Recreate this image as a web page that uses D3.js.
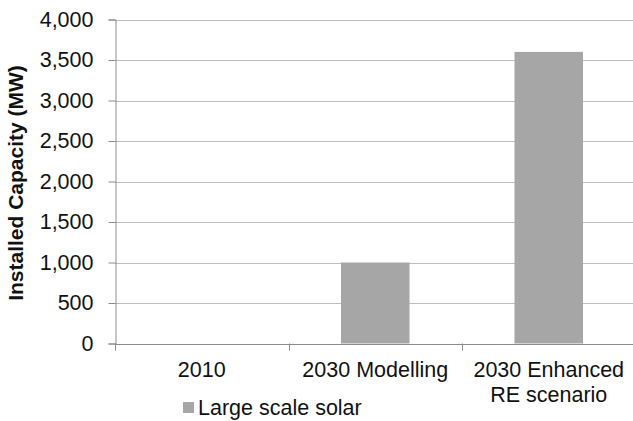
<!DOCTYPE html>
<html><head><meta charset="utf-8">
<script src="https://cdn.jsdelivr.net/npm/d3@7"></script>
<style>body{margin:0;background:#fff;} text{font-family:"Liberation Sans",Arial,sans-serif;fill:#111;}</style>
</head><body>
<svg id="c" width="633" height="421"></svg>
<script>
const categories = [["2010"], ["2030 Modelling"], ["2030 Enhanced", "RE scenario"]];
const seriesName = "Large scale solar";
const values = [0, 1000, 3600];
const yTicks = [0, 500, 1000, 1500, 2000, 2500, 3000, 3500, 4000];

(function () {
const svg = d3.select("#c");
const mLeft = 115, mRight = 635.5, mTop = 19.5, mBottom = 343.5;
const FS = 21.5;
const x = d3.scaleBand().domain(d3.range(categories.length)).range([mLeft, mRight]).paddingInner(0).paddingOuter(0);
const y = d3.scaleLinear().domain([0, 4000]).range([mBottom, mTop]);
const barW = x.bandwidth() * 0.395;

// gridlines
svg.append("g").selectAll("line").data(yTicks.filter(d => d > 0)).join("line")
  .attr("x1", mLeft).attr("x2", 633).attr("y1", d => Math.round(y(d)) + 0.5).attr("y2", d => Math.round(y(d)) + 0.5)
  .attr("stroke", "#bdbdbd").attr("stroke-width", 1);

// bars
svg.append("g").selectAll("rect").data(values).join("rect")
  .attr("x", (d, i) => x(i) + x.bandwidth() / 2 - barW / 2)
  .attr("width", barW)
  .attr("y", d => y(d))
  .attr("height", d => y(0) - y(d))
  .attr("fill", "#a6a6a6");

// y axis
const yAxis = d3.axisLeft(y).tickValues(yTicks).tickSize(7).tickPadding(15).tickFormat(d3.format(","));
const gy = svg.append("g").attr("transform", `translate(${mLeft + 0.5},0)`).call(yAxis);
gy.select(".domain").attr("stroke", "#8c8c8c");
gy.selectAll(".tick line").attr("stroke", "#8c8c8c");
gy.selectAll(".tick text").attr("font-size", FS).attr("fill", "#111").style("font-family", "Liberation Sans, Arial, sans-serif");

// x axis
const xAxis = d3.axisBottom(x).tickSize(0).tickFormat("");
const gx = svg.append("g").attr("transform", `translate(0,${Math.round(mBottom) + 0.5})`).call(xAxis);
gx.select(".domain").attr("stroke", "#8c8c8c").attr("d", `M${mLeft},0H633`);
// category separator ticks
svg.append("g").selectAll("line").data(d3.range(categories.length + 1)).join("line")
  .attr("x1", i => Math.round(mLeft + i * x.bandwidth()) + 0.5)
  .attr("x2", i => Math.round(mLeft + i * x.bandwidth()) + 0.5)
  .attr("y1", mBottom).attr("y2", mBottom + 7)
  .attr("stroke", "#8c8c8c");

// category labels
const lbl = svg.append("g").selectAll("text").data(categories).join("text")
  .attr("text-anchor", "middle").attr("font-size", FS)
  .attr("x", (d, i) => x(i) + x.bandwidth() / 2)
  .attr("y", 377);
lbl.selectAll("tspan").data(d => d).join("tspan")
  .attr("x", function () { return d3.select(this.parentNode).attr("x"); })
  .attr("dy", (d, i) => i === 0 ? 0 : 25)
  .text(d => d);

// y title
svg.append("text").attr("transform", "translate(23,183) rotate(-90)")
  .attr("text-anchor", "middle").attr("font-size", 21).attr("font-weight", "bold")
  .text("Installed Capacity (MW)");

// legend
const lg = svg.append("g");
lg.append("rect").attr("x", 183).attr("y", 402).attr("width", 11).attr("height", 11).attr("fill", "#a6a6a6");
lg.append("text").attr("x", 198).attr("y", 415).attr("font-size", FS).text(seriesName);
})();
</script>
</body></html>
